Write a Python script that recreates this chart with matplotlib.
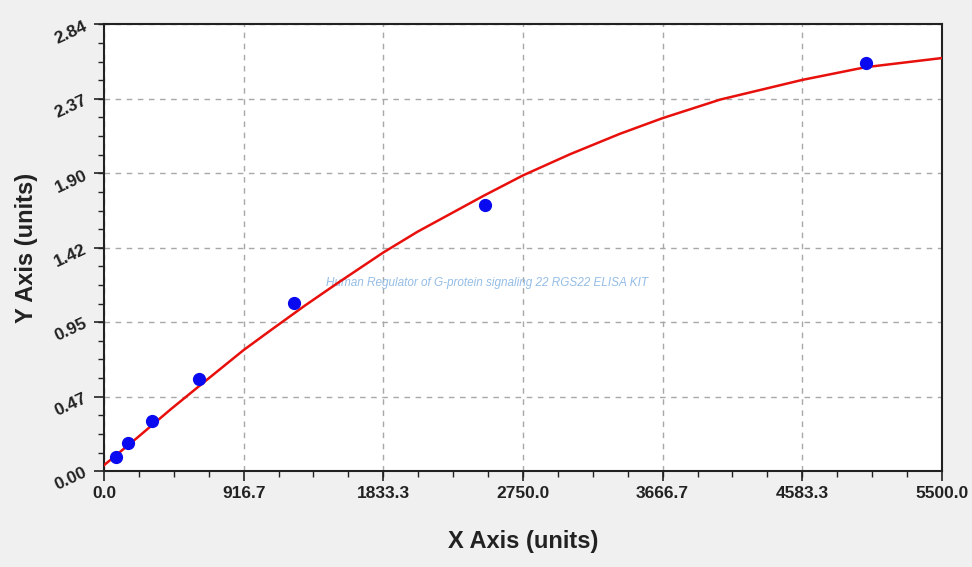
import matplotlib
matplotlib.use('Agg')
import matplotlib.pyplot as plt
import numpy as np
from matplotlib.ticker import AutoMinorLocator

plt.rcParams['font.family'] = ['Liberation Sans', 'DejaVu Sans']

# standards (concentration, OD)
std_x = [78.125, 156.25, 312.5, 625, 1250, 2500, 5000]
std_y = [0.091, 0.176, 0.320, 0.587, 1.071, 1.690, 2.594]

# fitted curve
fit_x = [0, 221, 440, 659, 916.7, 1096, 1315, 1534, 1833.3, 2058, 2491, 2750,
         3060, 3388, 3666.7, 4045, 4583.3, 5000, 5500]
fit_y = [0.038, 0.215, 0.395, 0.568, 0.770, 0.897, 1.050, 1.196, 1.390, 1.522, 1.750, 1.880,
         2.015, 2.145, 2.244, 2.362, 2.487, 2.568, 2.626]

x_ticks = [0.0, 916.7, 1833.3, 2750.0, 3666.7, 4583.3, 5500.0]
y_ticks = [0.0, 0.4733, 0.9467, 1.42, 1.8933, 2.3667, 2.84]
y_labels = ['0.00', '0.47', '0.95', '1.42', '1.90', '2.37', '2.84']

title_txt = 'Human Regulator of G-protein signaling 22 RGS22 ELISA KIT'

fig = plt.figure(figsize=(9.72, 5.67), dpi=100, facecolor='#f0f0f0')
ax = fig.add_axes([0.107, 0.169, 0.862, 0.788])
ax.set_facecolor('white')

ax.plot(fit_x, fit_y, color='#e8100c', linewidth=1.8, zorder=3)
ax.plot(std_x, std_y, 'o', color='#0a0af0', markersize=8.5, zorder=4)

ax.set_xlim(0, 5500)
ax.set_ylim(0, 2.84)
ax.set_xticks(x_ticks)
ax.set_xticklabels(['%.1f' % v for v in x_ticks])
ax.set_yticks(y_ticks)
ax.set_yticklabels(y_labels, rotation=25)
ax.xaxis.set_minor_locator(AutoMinorLocator(4))
ax.yaxis.set_minor_locator(AutoMinorLocator(4))

ax.tick_params(which='major', direction='out', length=7, width=1.2, color='#222222')
ax.tick_params(which='minor', direction='out', length=4, width=1.0, color='#222222')
ax.tick_params(axis='both', labelsize=12.5, colors='#222222')
for lab in ax.get_xticklabels() + ax.get_yticklabels():
    lab.set_fontweight('bold')

ax.grid(True, which='major', color='#a8a8a8', linestyle=(0, (4, 4)), linewidth=1.0)
for s in ax.spines.values():
    s.set_linewidth(1.5)
    s.set_color('#222222')

ax.set_xlabel('X Axis (units)', fontsize=17, fontweight='bold', labelpad=21, color='#222222')
ax.set_ylabel('Y Axis (units)', fontsize=17, fontweight='bold', labelpad=10, color='#222222')

ax.text(0.457, 0.421, title_txt, transform=ax.transAxes, fontsize=8.5, style='italic',
        color='#95bde6', ha='center', va='center', zorder=2)

fig.savefig('out.png', dpi=100, facecolor=fig.get_facecolor())
